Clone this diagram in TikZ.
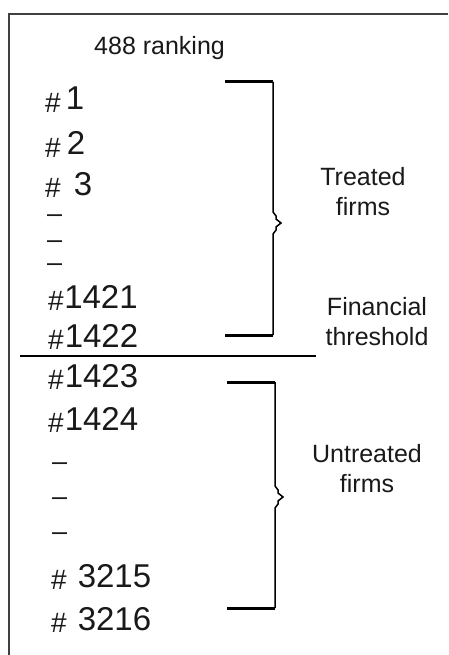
\documentclass[tikz,border=0pt]{standalone}
\usepackage{fontspec}
\setmainfont{Liberation Sans}
\newcommand{\hashsym}{\raisebox{-2.5pt}{\fontsize{28}{28}\selectfont\#}}
\begin{document}
\begin{tikzpicture}[x=1pt,y=-1pt,
  numtxt/.style={anchor=base west,inner sep=0pt,font=\fontsize{33}{33}\selectfont,text=black!90},
  dashtxt/.style={anchor=base west,inner sep=0pt,font=\fontsize{27}{27}\selectfont,text=black!90},
  lbltxt/.style={anchor=base,inner sep=0pt,align=center,font=\fontsize{25}{30}\selectfont,text=black!90},
  frameline/.style={draw=black!75,line width=2pt},
  thickend/.style={line width=3pt},
  bracketline/.style={line width=1.5pt,line join=miter}]
\useasboundingbox (0,0) rectangle (448,655);
% frame
\coordinate (fbl) at (9,655);
\coordinate (ftl) at (9,14);
\coordinate (ftr) at (448,14);
\draw[frameline] (fbl) -- (ftl) -- (ftr);
% title
\node[anchor=base west,inner sep=0pt,font=\fontsize{25}{25}\selectfont,text=black!90] (title) at (94,55) {488 ranking};
% ranks
\node[numtxt] (r1) at (45,110) {\hashsym\hspace{5pt}1};
\node[numtxt] (r2) at (45,155) {\hashsym\hspace{6pt}2};
\node[numtxt] (r3) at (45,195) {\hashsym\hspace{13pt}3};
\node[dashtxt] (d1) at (47,222) {–};
\node[dashtxt] (d2) at (47,248) {–};
\node[dashtxt] (d3) at (47,271) {–};
\node[numtxt] (r1421) at (48,308) {\hashsym\hspace{0.5pt}1421};
\node[numtxt] (r1422) at (48,347) {\hashsym\hspace{1pt}1422};
\node[numtxt] (r1423) at (48,387) {\hashsym\hspace{1pt}1423};
\node[numtxt] (r1424) at (48,430) {\hashsym\hspace{1pt}1424};
\node[dashtxt] (d4) at (52,470) {–};
\node[dashtxt] (d5) at (52,505) {–};
\node[dashtxt] (d6) at (52,540) {–};
\node[numtxt] (r3215) at (51,587) {\hashsym\hspace{11pt}3215};
\node[numtxt] (r3216) at (51,630) {\hashsym\hspace{11pt}3216};
% threshold line
\coordinate (thl) at (20,356);
\coordinate (thr) at (316,356);
\draw[line width=1.3pt] (thl) -- (thr);
% labels
\node[lbltxt] (treated) at (363,215) {Treated\\firms};
\node[lbltxt] (fin) at (377,345) {Financial\\threshold};
\node[lbltxt] (untreated) at (367,492) {Untreated\\firms};
% upper bracket
\coordinate (ua) at (225,82);
\coordinate (ub) at (273,82);
\coordinate (uc) at (273,335);
\coordinate (ud) at (225,335);
\draw[thickend] (ua) -- (ub);
\draw[thickend] (uc) -- (ud);
\draw[bracketline] (ub) -- (273,212) -- (276,216) -- (276,219) -- (281,223) -- (276,227) -- (276,230) -- (273,234) -- (uc);
% lower bracket
\coordinate (la) at (227,382);
\coordinate (lb) at (275,382);
\coordinate (lc) at (275,608);
\coordinate (ld) at (227,608);
\draw[thickend] (la) -- (lb);
\draw[thickend] (lc) -- (ld);
\draw[bracketline] (lb) -- (275,486) -- (278,490) -- (278,493) -- (283,497) -- (278,501) -- (278,504) -- (275,508) -- (lc);
\end{tikzpicture}
\end{document}
